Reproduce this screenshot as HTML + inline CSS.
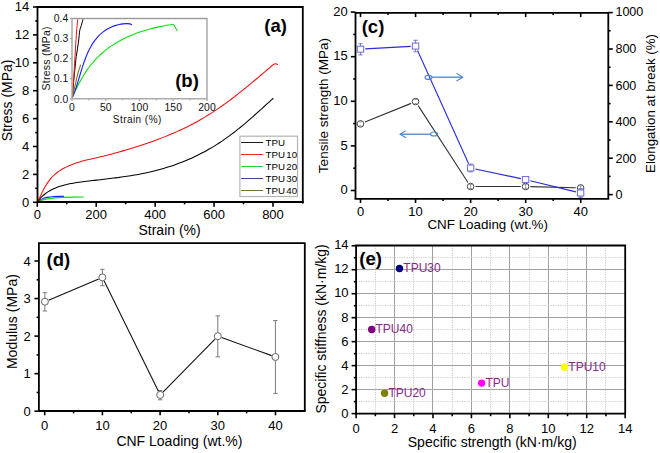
<!DOCTYPE html>
<html><head><meta charset="utf-8"><style>
html,body{margin:0;padding:0;background:#fff;}
svg{display:block;font-family:"Liberation Sans", sans-serif;}
</style></head><body>
<svg width="660" height="453" viewBox="0 0 660 453">
<rect width="660" height="453" fill="#fff"/>
<path d="M37.50,202.00 C37.82,201.80 38.77,201.20 39.40,200.80 C40.03,200.40 40.58,200.03 41.30,199.60 C42.02,199.17 42.48,198.62 43.70,198.20 C44.92,197.78 46.98,197.35 48.60,197.10 C50.22,196.85 51.78,196.81 53.40,196.70 C55.02,196.59 56.62,196.50 58.30,196.45 C59.98,196.40 62.63,196.41 63.50,196.40" stroke="#1a1aff" stroke-width="1.2" fill="none" stroke-linejoin="round" stroke-linecap="round" />
<path d="M37.50,202.00 C38.13,201.75 39.87,200.98 41.30,200.50 C42.73,200.02 44.08,199.50 46.10,199.10 C48.12,198.70 50.42,198.38 53.40,198.10 C56.38,197.82 60.23,197.57 64.00,197.40 C67.77,197.23 72.78,197.17 76.00,197.10 C79.22,197.03 82.08,197.02 83.30,197.00" stroke="#10e010" stroke-width="1.2" fill="none" stroke-linejoin="round" stroke-linecap="round" />
<path d="M37.50,202.00 C38.13,201.60 40.67,200.00 41.30,199.60" stroke="#7a7a10" stroke-width="1.2" fill="none" stroke-linejoin="round" stroke-linecap="round" />
<path d="M37.49,201.99 C37.88,201.47 39.01,199.86 39.83,198.89 C40.65,197.92 41.52,197.01 42.43,196.15 C43.34,195.29 44.29,194.49 45.27,193.74 C46.25,192.99 47.27,192.29 48.31,191.63 C49.35,190.97 50.43,190.36 51.53,189.79 C52.63,189.22 53.76,188.69 54.91,188.20 C56.06,187.71 57.23,187.26 58.41,186.84 C59.59,186.42 60.80,186.04 62.01,185.68 C63.22,185.32 64.45,185.00 65.69,184.70 C66.93,184.40 68.18,184.12 69.44,183.86 C70.70,183.60 71.96,183.37 73.24,183.15 C74.52,182.93 75.81,182.72 77.09,182.53 C78.38,182.34 79.66,182.17 80.95,182.00 C82.24,181.83 83.54,181.66 84.83,181.50 C86.12,181.34 87.41,181.19 88.70,181.04 C89.99,180.89 91.28,180.73 92.56,180.58 C93.84,180.43 95.13,180.29 96.41,180.14 C97.69,179.99 98.97,179.84 100.25,179.69 C101.53,179.54 102.81,179.40 104.09,179.25 C105.37,179.10 106.64,178.95 107.91,178.80 C109.18,178.65 110.45,178.50 111.72,178.34 C112.99,178.18 114.26,178.02 115.53,177.86 C116.80,177.70 118.06,177.54 119.32,177.37 C120.58,177.20 121.85,177.03 123.11,176.85 C124.37,176.67 125.62,176.49 126.88,176.30 C128.14,176.11 129.40,175.92 130.65,175.72 C131.91,175.52 133.16,175.31 134.41,175.10 C135.66,174.89 136.92,174.67 138.17,174.44 C139.42,174.21 140.66,173.98 141.91,173.73 C143.16,173.48 144.41,173.22 145.65,172.96 C146.90,172.70 148.14,172.43 149.38,172.15 C150.62,171.87 151.86,171.57 153.10,171.27 C154.34,170.97 155.57,170.66 156.81,170.33 C158.05,170.00 159.28,169.67 160.51,169.32 C161.74,168.97 162.97,168.62 164.20,168.25 C165.43,167.88 166.66,167.51 167.88,167.12 C169.10,166.73 170.32,166.33 171.54,165.92 C172.76,165.51 173.97,165.09 175.18,164.66 C176.39,164.23 177.60,163.79 178.80,163.34 C180.00,162.89 181.20,162.42 182.40,161.95 C183.60,161.48 184.79,161.00 185.98,160.50 C187.17,160.00 188.34,159.50 189.52,158.98 C190.70,158.46 191.87,157.94 193.04,157.40 C194.21,156.86 195.37,156.32 196.53,155.76 C197.69,155.20 198.84,154.64 199.99,154.06 C201.14,153.48 202.28,152.90 203.41,152.30 C204.54,151.70 205.67,151.09 206.79,150.47 C207.91,149.85 209.03,149.21 210.14,148.57 C211.25,147.93 212.35,147.28 213.44,146.62 C214.53,145.96 215.62,145.28 216.70,144.60 C217.78,143.92 218.85,143.23 219.92,142.53 C220.98,141.83 222.04,141.11 223.09,140.39 C224.14,139.67 225.18,138.93 226.22,138.19 C227.26,137.45 228.28,136.70 229.31,135.94 C230.34,135.18 231.36,134.42 232.37,133.65 C233.38,132.88 234.39,132.10 235.39,131.31 C236.39,130.52 237.40,129.72 238.39,128.92 C239.38,128.12 240.36,127.31 241.35,126.50 C242.34,125.69 243.32,124.87 244.30,124.05 C245.28,123.23 246.25,122.40 247.22,121.57 C248.19,120.74 249.16,119.90 250.12,119.06 C251.08,118.22 252.04,117.38 253.00,116.53 C253.96,115.68 254.92,114.83 255.88,113.98 C256.84,113.13 257.79,112.27 258.74,111.41 C259.69,110.55 260.64,109.70 261.59,108.84 C262.54,107.98 263.49,107.11 264.44,106.25 C265.39,105.39 266.34,104.53 267.29,103.67 C268.24,102.81 269.19,101.94 270.14,101.08 C271.09,100.22 272.52,98.93 273.00,98.50" stroke="#000" stroke-width="1.05" fill="none" stroke-linejoin="round" stroke-linecap="round" />
<path d="M37.50,202.00 C37.80,201.39 38.71,199.56 39.31,198.33 C39.91,197.10 40.48,195.86 41.08,194.63 C41.67,193.40 42.26,192.16 42.88,190.95 C43.50,189.73 44.12,188.52 44.78,187.34 C45.44,186.16 46.13,184.99 46.86,183.86 C47.59,182.73 48.36,181.62 49.17,180.56 C49.98,179.50 50.84,178.46 51.74,177.47 C52.65,176.48 53.60,175.53 54.60,174.62 C55.60,173.72 56.66,172.85 57.76,172.04 C58.86,171.23 60.01,170.46 61.18,169.74 C62.35,169.02 63.58,168.35 64.80,167.72 C66.02,167.09 67.26,166.50 68.50,165.95 C69.74,165.40 70.99,164.90 72.25,164.42 C73.51,163.94 74.77,163.49 76.04,163.07 C77.31,162.65 78.57,162.25 79.85,161.88 C81.13,161.50 82.41,161.16 83.70,160.82 C84.99,160.48 86.27,160.16 87.57,159.85 C88.86,159.53 90.17,159.23 91.47,158.93 C92.77,158.63 94.08,158.33 95.39,158.03 C96.70,157.73 98.01,157.42 99.32,157.11 C100.63,156.80 101.95,156.48 103.27,156.16 C104.59,155.84 105.90,155.51 107.22,155.17 C108.54,154.83 109.87,154.49 111.19,154.14 C112.51,153.79 113.83,153.45 115.15,153.09 C116.47,152.73 117.80,152.36 119.12,151.99 C120.44,151.62 121.76,151.25 123.08,150.87 C124.40,150.49 125.72,150.10 127.04,149.71 C128.36,149.32 129.67,148.92 130.98,148.52 C132.29,148.12 133.61,147.72 134.92,147.31 C136.23,146.90 137.53,146.48 138.83,146.06 C140.13,145.64 141.43,145.22 142.73,144.79 C144.03,144.36 145.32,143.92 146.61,143.48 C147.90,143.04 149.19,142.58 150.48,142.13 C151.76,141.68 153.04,141.22 154.32,140.75 C155.60,140.28 156.88,139.81 158.15,139.33 C159.42,138.85 160.69,138.37 161.95,137.88 C163.21,137.39 164.47,136.89 165.73,136.38 C166.99,135.87 168.24,135.36 169.49,134.84 C170.74,134.32 171.98,133.79 173.22,133.25 C174.46,132.71 175.70,132.17 176.93,131.62 C178.16,131.07 179.40,130.51 180.62,129.94 C181.84,129.37 183.06,128.79 184.28,128.20 C185.50,127.61 186.70,127.02 187.91,126.42 C189.12,125.82 190.32,125.21 191.52,124.59 C192.72,123.97 193.90,123.33 195.09,122.69 C196.28,122.05 197.46,121.41 198.64,120.75 C199.82,120.09 200.99,119.42 202.16,118.74 C203.33,118.06 204.48,117.37 205.64,116.67 C206.80,115.97 207.95,115.26 209.10,114.54 C210.25,113.82 211.38,113.10 212.52,112.36 C213.66,111.62 214.79,110.88 215.92,110.12 C217.05,109.36 218.16,108.59 219.28,107.82 C220.40,107.05 221.51,106.27 222.62,105.48 C223.73,104.69 224.84,103.90 225.94,103.10 C227.04,102.30 228.14,101.48 229.23,100.67 C230.32,99.86 231.41,99.04 232.49,98.21 C233.58,97.38 234.66,96.55 235.74,95.71 C236.82,94.87 237.89,94.03 238.96,93.19 C240.03,92.34 241.09,91.49 242.16,90.64 C243.22,89.79 244.29,88.93 245.35,88.07 C246.41,87.21 247.46,86.35 248.51,85.48 C249.56,84.61 250.62,83.74 251.67,82.87 C252.72,82.00 253.76,81.13 254.80,80.26 C255.84,79.39 256.89,78.52 257.93,77.64 C258.97,76.77 260.00,75.89 261.04,75.01 C262.08,74.14 263.11,73.27 264.14,72.39 C265.17,71.52 266.20,70.63 267.23,69.76 C268.26,68.89 269.29,68.02 270.31,67.15 C271.33,66.28 272.50,65.11 273.38,64.55 C274.26,63.99 274.88,63.82 275.60,63.80 C276.32,63.77 277.35,64.30 277.70,64.40" stroke="#f01010" stroke-width="1.05" fill="none" stroke-linejoin="round" stroke-linecap="round" />
<path d="M37.5,202.0 L37.5,7.0 L302.8,7.0 L302.8,203.5" stroke="#000" stroke-width="1.8" fill="none"/>
<line x1="36.60" y1="202.00" x2="303.70" y2="202.00" stroke="#000" stroke-width="1.8" />
<line x1="33.00" y1="202.30" x2="37.50" y2="202.30" stroke="#000" stroke-width="1.6" />
<text x="29.30" y="206.70" font-size="13" text-anchor="end" font-weight="normal" fill="#000" >0</text>
<line x1="35.20" y1="188.35" x2="37.50" y2="188.35" stroke="#000" stroke-width="1.6" />
<line x1="33.00" y1="174.40" x2="37.50" y2="174.40" stroke="#000" stroke-width="1.6" />
<text x="29.30" y="178.80" font-size="13" text-anchor="end" font-weight="normal" fill="#000" >2</text>
<line x1="35.20" y1="160.45" x2="37.50" y2="160.45" stroke="#000" stroke-width="1.6" />
<line x1="33.00" y1="146.50" x2="37.50" y2="146.50" stroke="#000" stroke-width="1.6" />
<text x="29.30" y="150.90" font-size="13" text-anchor="end" font-weight="normal" fill="#000" >4</text>
<line x1="35.20" y1="132.55" x2="37.50" y2="132.55" stroke="#000" stroke-width="1.6" />
<line x1="33.00" y1="118.60" x2="37.50" y2="118.60" stroke="#000" stroke-width="1.6" />
<text x="29.30" y="123.00" font-size="13" text-anchor="end" font-weight="normal" fill="#000" >6</text>
<line x1="35.20" y1="104.65" x2="37.50" y2="104.65" stroke="#000" stroke-width="1.6" />
<line x1="33.00" y1="90.70" x2="37.50" y2="90.70" stroke="#000" stroke-width="1.6" />
<text x="29.30" y="95.10" font-size="13" text-anchor="end" font-weight="normal" fill="#000" >8</text>
<line x1="35.20" y1="76.75" x2="37.50" y2="76.75" stroke="#000" stroke-width="1.6" />
<line x1="33.00" y1="62.80" x2="37.50" y2="62.80" stroke="#000" stroke-width="1.6" />
<text x="29.30" y="67.20" font-size="13" text-anchor="end" font-weight="normal" fill="#000" >10</text>
<line x1="35.20" y1="48.85" x2="37.50" y2="48.85" stroke="#000" stroke-width="1.6" />
<line x1="33.00" y1="34.90" x2="37.50" y2="34.90" stroke="#000" stroke-width="1.6" />
<text x="29.30" y="39.30" font-size="13" text-anchor="end" font-weight="normal" fill="#000" >12</text>
<line x1="35.20" y1="20.95" x2="37.50" y2="20.95" stroke="#000" stroke-width="1.6" />
<line x1="33.00" y1="7.00" x2="37.50" y2="7.00" stroke="#000" stroke-width="1.6" />
<text x="29.30" y="11.40" font-size="13" text-anchor="end" font-weight="normal" fill="#000" >14</text>
<line x1="37.30" y1="202.00" x2="37.30" y2="206.80" stroke="#000" stroke-width="1.6" />
<text x="37.30" y="219.40" font-size="13" text-anchor="middle" font-weight="normal" fill="#000" >0</text>
<line x1="66.76" y1="202.00" x2="66.76" y2="204.30" stroke="#000" stroke-width="1.6" />
<line x1="96.22" y1="202.00" x2="96.22" y2="206.80" stroke="#000" stroke-width="1.6" />
<text x="96.22" y="219.40" font-size="13" text-anchor="middle" font-weight="normal" fill="#000" >200</text>
<line x1="125.68" y1="202.00" x2="125.68" y2="204.30" stroke="#000" stroke-width="1.6" />
<line x1="155.14" y1="202.00" x2="155.14" y2="206.80" stroke="#000" stroke-width="1.6" />
<text x="155.14" y="219.40" font-size="13" text-anchor="middle" font-weight="normal" fill="#000" >400</text>
<line x1="184.60" y1="202.00" x2="184.60" y2="204.30" stroke="#000" stroke-width="1.6" />
<line x1="214.06" y1="202.00" x2="214.06" y2="206.80" stroke="#000" stroke-width="1.6" />
<text x="214.06" y="219.40" font-size="13" text-anchor="middle" font-weight="normal" fill="#000" >600</text>
<line x1="243.52" y1="202.00" x2="243.52" y2="204.30" stroke="#000" stroke-width="1.6" />
<line x1="272.98" y1="202.00" x2="272.98" y2="206.80" stroke="#000" stroke-width="1.6" />
<text x="272.98" y="219.40" font-size="13" text-anchor="middle" font-weight="normal" fill="#000" >800</text>
<text x="169.60" y="234.80" font-size="14" text-anchor="middle" font-weight="normal" fill="#000" >Strain (%)</text>
<text transform="translate(11.60,100.30) rotate(-90)" font-size="14" text-anchor="middle" font-weight="normal" fill="#000" >Stress (MPa)</text>
<text x="264.30" y="32.00" font-size="18.5" text-anchor="start" font-weight="bold" fill="#000" >(a)</text>
<rect x="239.90" y="136.20" width="57.60" height="60.30" stroke="#b4b4b4" stroke-width="1.2" fill="#fff" />
<line x1="241.10" y1="142.50" x2="263.20" y2="142.50" stroke="#1a1a1a" stroke-width="1" />
<text x="265.60" y="145.80" font-size="9.7" text-anchor="start" font-weight="normal" fill="#000" letter-spacing="0.05" >TPU</text>
<line x1="241.10" y1="154.50" x2="263.20" y2="154.50" stroke="#f52525" stroke-width="1" />
<text x="265.60" y="157.80" font-size="9.7" text-anchor="start" font-weight="normal" fill="#000" letter-spacing="0.05" >TPU<tspan dx="1.2">10</tspan></text>
<line x1="241.10" y1="166.50" x2="263.20" y2="166.50" stroke="#25d525" stroke-width="1" />
<text x="265.60" y="169.80" font-size="9.7" text-anchor="start" font-weight="normal" fill="#000" letter-spacing="0.05" >TPU<tspan dx="1.2">20</tspan></text>
<line x1="241.10" y1="178.50" x2="263.20" y2="178.50" stroke="#4040b0" stroke-width="1" />
<text x="265.60" y="181.80" font-size="9.7" text-anchor="start" font-weight="normal" fill="#000" letter-spacing="0.05" >TPU<tspan dx="1.2">30</tspan></text>
<line x1="241.10" y1="190.50" x2="263.20" y2="190.50" stroke="#737330" stroke-width="1" />
<text x="265.60" y="193.80" font-size="9.7" text-anchor="start" font-weight="normal" fill="#000" letter-spacing="0.05" >TPU<tspan dx="1.2">40</tspan></text>
<clipPath id="cb"><rect x="71.9" y="18.4" width="135" height="80.2"/></clipPath>
<g clip-path="url(#cb)">
<path d="M72.21,97.91 C72.53,97.19 73.47,95.01 74.12,93.58 C74.77,92.15 75.42,90.73 76.09,89.33 C76.76,87.93 77.44,86.55 78.13,85.18 C78.82,83.81 79.53,82.46 80.26,81.12 C80.99,79.78 81.73,78.47 82.50,77.17 C83.27,75.87 84.05,74.59 84.86,73.33 C85.67,72.07 86.50,70.83 87.36,69.61 C88.22,68.39 89.10,67.19 90.01,66.01 C90.92,64.83 91.87,63.68 92.83,62.55 C93.79,61.42 94.78,60.31 95.79,59.22 C96.81,58.13 97.85,57.07 98.92,56.03 C99.99,54.99 101.08,53.98 102.20,52.99 C103.32,52.00 104.46,51.04 105.63,50.11 C106.80,49.18 108.00,48.27 109.22,47.39 C110.44,46.51 111.70,45.66 112.97,44.84 C114.24,44.02 115.54,43.22 116.85,42.45 C118.16,41.68 119.50,40.94 120.85,40.22 C122.20,39.50 123.57,38.81 124.96,38.14 C126.35,37.47 127.75,36.84 129.17,36.22 C130.59,35.60 132.02,35.01 133.46,34.44 C134.90,33.87 136.36,33.33 137.82,32.81 C139.28,32.29 140.75,31.80 142.22,31.32 C143.69,30.84 145.19,30.39 146.67,29.96 C148.15,29.53 149.64,29.12 151.13,28.73 C152.62,28.34 154.12,27.98 155.61,27.63 C157.10,27.28 158.58,26.96 160.07,26.65 C161.56,26.34 163.04,26.05 164.52,25.78 C166.00,25.51 167.47,25.26 168.93,25.03 C170.39,24.80 172.25,24.04 173.29,24.40 C174.33,24.76 174.55,26.17 175.20,27.20 C175.85,28.23 176.87,30.03 177.20,30.60" stroke="#10e010" stroke-width="1.1" fill="none" stroke-linejoin="round" stroke-linecap="round" />
<path d="M72.20,97.90 C72.41,97.41 73.05,95.94 73.45,94.93 C73.85,93.92 74.24,92.90 74.62,91.86 C75.00,90.82 75.36,89.77 75.72,88.70 C76.08,87.64 76.44,86.56 76.79,85.47 C77.14,84.38 77.48,83.28 77.82,82.17 C78.16,81.06 78.50,79.96 78.83,78.84 C79.16,77.72 79.49,76.59 79.83,75.47 C80.17,74.34 80.51,73.22 80.85,72.09 C81.19,70.96 81.54,69.83 81.89,68.70 C82.24,67.58 82.60,66.46 82.97,65.34 C83.34,64.22 83.71,63.11 84.10,62.00 C84.49,60.89 84.89,59.79 85.30,58.70 C85.71,57.61 86.14,56.53 86.58,55.46 C87.02,54.39 87.47,53.34 87.95,52.30 C88.43,51.26 88.92,50.23 89.43,49.22 C89.95,48.21 90.48,47.22 91.04,46.25 C91.60,45.28 92.17,44.32 92.78,43.39 C93.39,42.46 94.01,41.55 94.67,40.67 C95.33,39.79 96.01,38.92 96.72,38.09 C97.43,37.26 98.17,36.45 98.93,35.67 C99.69,34.89 100.48,34.15 101.30,33.43 C102.12,32.71 102.96,32.03 103.83,31.38 C104.70,30.73 105.61,30.12 106.54,29.54 C107.47,28.96 108.44,28.41 109.43,27.91 C110.42,27.41 111.44,26.94 112.49,26.52 C113.54,26.10 114.62,25.71 115.74,25.38 C116.85,25.04 118.00,24.76 119.18,24.51 C120.36,24.27 121.57,24.06 122.81,23.91 C124.05,23.76 125.43,23.61 126.63,23.61 C127.83,23.61 129.19,23.70 130.00,23.90 C130.81,24.10 131.25,24.65 131.50,24.80" stroke="#1a1aff" stroke-width="1.1" fill="none" stroke-linejoin="round" stroke-linecap="round" />
<path d="M72.20,97.90 C72.50,96.67 73.43,92.97 74.00,90.50 C74.57,88.03 74.88,86.18 75.60,83.10 C76.32,80.02 77.47,75.02 78.30,72.00 C79.13,68.98 80.22,66.17 80.60,65.00" stroke="#7a7a10" stroke-width="1.1" fill="none" stroke-linejoin="round" stroke-linecap="round" />
<path d="M72.20,97.90 C72.33,96.25 72.70,91.32 73.00,88.00 C73.30,84.68 73.67,81.33 74.00,78.00 C74.33,74.67 74.70,71.00 75.00,68.00 C75.30,65.00 75.50,62.50 75.80,60.00 C76.10,57.50 76.38,55.80 76.80,53.00 C77.22,50.20 77.90,46.12 78.30,43.20 C78.70,40.28 78.97,37.60 79.20,35.50 C79.43,33.40 79.37,32.23 79.70,30.60 C80.03,28.97 80.63,27.65 81.20,25.70 C81.77,23.75 82.70,20.35 83.10,18.90 C83.50,17.45 83.52,17.32 83.60,17.00" stroke="#000" stroke-width="1.0" fill="none" stroke-linejoin="round" stroke-linecap="round" />
<path d="M72.20,97.90 C72.37,95.75 72.88,89.32 73.20,85.00 C73.52,80.68 73.82,76.53 74.10,72.00 C74.38,67.47 74.62,62.60 74.90,57.80 C75.18,53.00 75.48,48.07 75.80,43.20 C76.12,38.33 76.47,32.65 76.80,28.60 C77.13,24.55 77.60,20.83 77.80,18.90 C78.00,16.97 77.97,17.32 78.00,17.00" stroke="#f01010" stroke-width="1.0" fill="none" stroke-linejoin="round" stroke-linecap="round" />
</g>
<path d="M72.0,98.8 L72.0,18.5 L207.0,18.5 L207.0,98.8 Z" stroke="#ababab" stroke-width="1.5" fill="none"/>
<line x1="72.00" y1="18.50" x2="207.00" y2="18.50" stroke="#999" stroke-width="1.1" />
<line x1="69.80" y1="98.80" x2="72.00" y2="98.80" stroke="#a8a8a8" stroke-width="1.2" />
<text x="68.20" y="102.50" font-size="10.4" text-anchor="end" font-weight="normal" fill="#111" >0.0</text>
<line x1="69.80" y1="78.73" x2="72.00" y2="78.73" stroke="#a8a8a8" stroke-width="1.2" />
<text x="68.20" y="82.43" font-size="10.4" text-anchor="end" font-weight="normal" fill="#111" >0.1</text>
<line x1="69.80" y1="58.66" x2="72.00" y2="58.66" stroke="#a8a8a8" stroke-width="1.2" />
<text x="68.20" y="62.36" font-size="10.4" text-anchor="end" font-weight="normal" fill="#111" >0.2</text>
<line x1="69.80" y1="38.59" x2="72.00" y2="38.59" stroke="#a8a8a8" stroke-width="1.2" />
<text x="68.20" y="42.29" font-size="10.4" text-anchor="end" font-weight="normal" fill="#111" >0.3</text>
<line x1="69.80" y1="18.52" x2="72.00" y2="18.52" stroke="#a8a8a8" stroke-width="1.2" />
<text x="68.20" y="22.22" font-size="10.4" text-anchor="end" font-weight="normal" fill="#111" >0.4</text>
<line x1="72.00" y1="98.80" x2="72.00" y2="101.00" stroke="#a8a8a8" stroke-width="1.2" />
<text x="72.00" y="110.60" font-size="10.4" text-anchor="middle" font-weight="normal" fill="#111" >0</text>
<line x1="88.88" y1="98.80" x2="88.88" y2="100.30" stroke="#a8a8a8" stroke-width="1.2" />
<line x1="105.75" y1="98.80" x2="105.75" y2="101.00" stroke="#a8a8a8" stroke-width="1.2" />
<text x="105.75" y="110.60" font-size="10.4" text-anchor="middle" font-weight="normal" fill="#111" >50</text>
<line x1="122.62" y1="98.80" x2="122.62" y2="100.30" stroke="#a8a8a8" stroke-width="1.2" />
<line x1="139.50" y1="98.80" x2="139.50" y2="101.00" stroke="#a8a8a8" stroke-width="1.2" />
<text x="139.50" y="110.60" font-size="10.4" text-anchor="middle" font-weight="normal" fill="#111" >100</text>
<line x1="156.38" y1="98.80" x2="156.38" y2="100.30" stroke="#a8a8a8" stroke-width="1.2" />
<line x1="173.25" y1="98.80" x2="173.25" y2="101.00" stroke="#a8a8a8" stroke-width="1.2" />
<text x="173.25" y="110.60" font-size="10.4" text-anchor="middle" font-weight="normal" fill="#111" >150</text>
<line x1="190.12" y1="98.80" x2="190.12" y2="100.30" stroke="#a8a8a8" stroke-width="1.2" />
<line x1="207.00" y1="98.80" x2="207.00" y2="101.00" stroke="#a8a8a8" stroke-width="1.2" />
<text x="207.00" y="110.60" font-size="10.4" text-anchor="middle" font-weight="normal" fill="#111" >200</text>
<text x="137.30" y="123.40" font-size="10" text-anchor="middle" font-weight="normal" fill="#111" letter-spacing="0.45" >Strain (%)</text>
<text transform="translate(50.10,58.30) rotate(-90)" font-size="10.5" text-anchor="middle" font-weight="normal" fill="#111" letter-spacing="0.25" >Stress (MPa)</text>
<text x="175.20" y="87.20" font-size="18.5" text-anchor="start" font-weight="bold" fill="#000" >(b)</text>
<path d="M355.5,198.8 L355.5,12.8 L608.3,12.8 L608.3,198.8" stroke="#000" stroke-width="1.8" fill="none"/>
<line x1="354.60" y1="198.80" x2="609.20" y2="198.80" stroke="#000" stroke-width="1.8" />
<line x1="350.80" y1="190.50" x2="355.50" y2="190.50" stroke="#000" stroke-width="1.6" />
<text x="347.80" y="194.20" font-size="13" text-anchor="end" font-weight="normal" fill="#000" >0</text>
<line x1="353.20" y1="168.20" x2="355.50" y2="168.20" stroke="#000" stroke-width="1.6" />
<line x1="350.80" y1="145.90" x2="355.50" y2="145.90" stroke="#000" stroke-width="1.6" />
<text x="347.80" y="149.60" font-size="13" text-anchor="end" font-weight="normal" fill="#000" >5</text>
<line x1="353.20" y1="123.60" x2="355.50" y2="123.60" stroke="#000" stroke-width="1.6" />
<line x1="350.80" y1="101.30" x2="355.50" y2="101.30" stroke="#000" stroke-width="1.6" />
<text x="347.80" y="105.00" font-size="13" text-anchor="end" font-weight="normal" fill="#000" >10</text>
<line x1="353.20" y1="79.00" x2="355.50" y2="79.00" stroke="#000" stroke-width="1.6" />
<line x1="350.80" y1="56.70" x2="355.50" y2="56.70" stroke="#000" stroke-width="1.6" />
<text x="347.80" y="60.40" font-size="13" text-anchor="end" font-weight="normal" fill="#000" >15</text>
<line x1="353.20" y1="34.40" x2="355.50" y2="34.40" stroke="#000" stroke-width="1.6" />
<line x1="350.80" y1="12.10" x2="355.50" y2="12.10" stroke="#000" stroke-width="1.6" />
<text x="347.80" y="15.80" font-size="13" text-anchor="end" font-weight="normal" fill="#000" >20</text>
<line x1="608.30" y1="194.60" x2="612.80" y2="194.60" stroke="#000" stroke-width="1.6" />
<text x="615.60" y="198.90" font-size="12.6" text-anchor="start" font-weight="normal" fill="#000" letter-spacing="-0.15" >0</text>
<line x1="608.30" y1="176.40" x2="610.60" y2="176.40" stroke="#000" stroke-width="1.6" />
<line x1="608.30" y1="158.20" x2="612.80" y2="158.20" stroke="#000" stroke-width="1.6" />
<text x="615.60" y="162.50" font-size="12.6" text-anchor="start" font-weight="normal" fill="#000" letter-spacing="-0.15" >200</text>
<line x1="608.30" y1="140.00" x2="610.60" y2="140.00" stroke="#000" stroke-width="1.6" />
<line x1="608.30" y1="121.80" x2="612.80" y2="121.80" stroke="#000" stroke-width="1.6" />
<text x="615.60" y="126.10" font-size="12.6" text-anchor="start" font-weight="normal" fill="#000" letter-spacing="-0.15" >400</text>
<line x1="608.30" y1="103.60" x2="610.60" y2="103.60" stroke="#000" stroke-width="1.6" />
<line x1="608.30" y1="85.40" x2="612.80" y2="85.40" stroke="#000" stroke-width="1.6" />
<text x="615.60" y="89.70" font-size="12.6" text-anchor="start" font-weight="normal" fill="#000" letter-spacing="-0.15" >600</text>
<line x1="608.30" y1="67.20" x2="610.60" y2="67.20" stroke="#000" stroke-width="1.6" />
<line x1="608.30" y1="49.00" x2="612.80" y2="49.00" stroke="#000" stroke-width="1.6" />
<text x="615.60" y="53.30" font-size="12.6" text-anchor="start" font-weight="normal" fill="#000" letter-spacing="-0.15" >800</text>
<line x1="608.30" y1="30.80" x2="610.60" y2="30.80" stroke="#000" stroke-width="1.6" />
<line x1="608.30" y1="12.60" x2="612.80" y2="12.60" stroke="#000" stroke-width="1.6" />
<text x="615.60" y="16.10" font-size="12.6" text-anchor="start" font-weight="normal" fill="#000" letter-spacing="-0.15" >1000</text>
<line x1="360.50" y1="198.80" x2="360.50" y2="203.00" stroke="#000" stroke-width="1.6" />
<line x1="360.50" y1="12.80" x2="360.50" y2="17.10" stroke="#000" stroke-width="1.6" />
<text x="360.50" y="216.00" font-size="13" text-anchor="middle" font-weight="normal" fill="#000" >0</text>
<line x1="388.03" y1="198.80" x2="388.03" y2="201.00" stroke="#000" stroke-width="1.6" />
<line x1="388.03" y1="12.80" x2="388.03" y2="15.10" stroke="#000" stroke-width="1.6" />
<line x1="415.56" y1="198.80" x2="415.56" y2="203.00" stroke="#000" stroke-width="1.6" />
<line x1="415.56" y1="12.80" x2="415.56" y2="17.10" stroke="#000" stroke-width="1.6" />
<text x="415.56" y="216.00" font-size="13" text-anchor="middle" font-weight="normal" fill="#000" >10</text>
<line x1="443.09" y1="198.80" x2="443.09" y2="201.00" stroke="#000" stroke-width="1.6" />
<line x1="443.09" y1="12.80" x2="443.09" y2="15.10" stroke="#000" stroke-width="1.6" />
<line x1="470.62" y1="198.80" x2="470.62" y2="203.00" stroke="#000" stroke-width="1.6" />
<line x1="470.62" y1="12.80" x2="470.62" y2="17.10" stroke="#000" stroke-width="1.6" />
<text x="470.62" y="216.00" font-size="13" text-anchor="middle" font-weight="normal" fill="#000" >20</text>
<line x1="498.15" y1="198.80" x2="498.15" y2="201.00" stroke="#000" stroke-width="1.6" />
<line x1="498.15" y1="12.80" x2="498.15" y2="15.10" stroke="#000" stroke-width="1.6" />
<line x1="525.68" y1="198.80" x2="525.68" y2="203.00" stroke="#000" stroke-width="1.6" />
<line x1="525.68" y1="12.80" x2="525.68" y2="17.10" stroke="#000" stroke-width="1.6" />
<text x="525.68" y="216.00" font-size="13" text-anchor="middle" font-weight="normal" fill="#000" >30</text>
<line x1="553.21" y1="198.80" x2="553.21" y2="201.00" stroke="#000" stroke-width="1.6" />
<line x1="553.21" y1="12.80" x2="553.21" y2="15.10" stroke="#000" stroke-width="1.6" />
<line x1="580.74" y1="198.80" x2="580.74" y2="203.00" stroke="#000" stroke-width="1.6" />
<line x1="580.74" y1="12.80" x2="580.74" y2="17.10" stroke="#000" stroke-width="1.6" />
<text x="580.74" y="216.00" font-size="13" text-anchor="middle" font-weight="normal" fill="#000" >40</text>
<text x="487.70" y="228.90" font-size="13.4" text-anchor="middle" font-weight="normal" fill="#000" >CNF Loading (wt.%)</text>
<text transform="translate(327.50,105.60) rotate(-90)" font-size="13.5" text-anchor="middle" font-weight="normal" fill="#000" >Tensile strength (MPa)</text>
<text transform="translate(655.20,103.50) rotate(-90)" font-size="13.3" text-anchor="middle" font-weight="normal" fill="#000" >Elongation at break (%)</text>
<text x="361.70" y="33.40" font-size="18.5" text-anchor="start" font-weight="bold" fill="#000" >(c)</text>
<line x1="364.95" y1="122.07" x2="411.11" y2="103.37" stroke="#333" stroke-width="1.1" />
<line x1="418.17" y1="105.60" x2="467.99" y2="182.47" stroke="#333" stroke-width="1.1" />
<line x1="475.40" y1="186.50" x2="520.80" y2="186.50" stroke="#333" stroke-width="1.1" />
<line x1="530.40" y1="186.62" x2="575.80" y2="187.78" stroke="#333" stroke-width="1.1" />
<line x1="365.29" y1="48.91" x2="410.77" y2="46.36" stroke="#2a2ae0" stroke-width="1.1" />
<line x1="417.54" y1="50.46" x2="468.64" y2="163.65" stroke="#2a2ae0" stroke-width="1.1" />
<line x1="475.32" y1="169.02" x2="520.90" y2="178.61" stroke="#2a2ae0" stroke-width="1.1" />
<line x1="530.26" y1="180.74" x2="575.94" y2="191.86" stroke="#2a2ae0" stroke-width="1.1" />
<circle cx="360.50" cy="123.87" r="3.3" stroke="#444" stroke-width="1" fill="#fff"/>
<line x1="359.30" y1="121.87" x2="361.70" y2="121.87" stroke="#777" stroke-width="0.8" />
<line x1="359.30" y1="125.87" x2="361.70" y2="125.87" stroke="#777" stroke-width="0.8" />
<circle cx="415.56" cy="101.57" r="3.3" stroke="#444" stroke-width="1" fill="#fff"/>
<line x1="414.36" y1="99.57" x2="416.76" y2="99.57" stroke="#777" stroke-width="0.8" />
<line x1="414.36" y1="103.57" x2="416.76" y2="103.57" stroke="#777" stroke-width="0.8" />
<circle cx="470.60" cy="186.50" r="3.3" stroke="#444" stroke-width="1" fill="#fff"/>
<line x1="469.40" y1="184.50" x2="471.80" y2="184.50" stroke="#777" stroke-width="0.8" />
<line x1="469.40" y1="188.50" x2="471.80" y2="188.50" stroke="#777" stroke-width="0.8" />
<line x1="470.60" y1="184.50" x2="470.60" y2="188.50" stroke="#888" stroke-width="0.8" />
<circle cx="525.60" cy="186.50" r="3.3" stroke="#444" stroke-width="1" fill="#fff"/>
<line x1="524.40" y1="184.50" x2="526.80" y2="184.50" stroke="#777" stroke-width="0.8" />
<line x1="524.40" y1="188.50" x2="526.80" y2="188.50" stroke="#777" stroke-width="0.8" />
<line x1="525.60" y1="184.50" x2="525.60" y2="188.50" stroke="#888" stroke-width="0.8" />
<circle cx="580.60" cy="187.90" r="3.3" stroke="#444" stroke-width="1" fill="#fff"/>
<line x1="579.40" y1="185.90" x2="581.80" y2="185.90" stroke="#777" stroke-width="0.8" />
<line x1="579.40" y1="189.90" x2="581.80" y2="189.90" stroke="#777" stroke-width="0.8" />
<line x1="580.60" y1="185.90" x2="580.60" y2="189.90" stroke="#888" stroke-width="0.8" />
<line x1="360.50" y1="43.68" x2="360.50" y2="54.88" stroke="#6a6ad0" stroke-width="0.9" />
<line x1="358.30" y1="43.68" x2="362.70" y2="43.68" stroke="#6a6ad0" stroke-width="0.9" />
<line x1="358.30" y1="54.88" x2="362.70" y2="54.88" stroke="#6a6ad0" stroke-width="0.9" />
<rect x="357.30" y="46.18" width="6.40" height="6.00" stroke="#6a6ad0" stroke-width="1" fill="#fff" />
<line x1="415.56" y1="40.29" x2="415.56" y2="51.79" stroke="#6a6ad0" stroke-width="0.9" />
<line x1="413.36" y1="40.29" x2="417.76" y2="40.29" stroke="#6a6ad0" stroke-width="0.9" />
<line x1="413.36" y1="51.79" x2="417.76" y2="51.79" stroke="#6a6ad0" stroke-width="0.9" />
<rect x="412.36" y="43.09" width="6.40" height="6.00" stroke="#6a6ad0" stroke-width="1" fill="#fff" />
<line x1="470.62" y1="164.03" x2="470.62" y2="171.83" stroke="#6a6ad0" stroke-width="0.9" />
<line x1="468.42" y1="164.03" x2="472.82" y2="164.03" stroke="#6a6ad0" stroke-width="0.9" />
<line x1="468.42" y1="171.83" x2="472.82" y2="171.83" stroke="#6a6ad0" stroke-width="0.9" />
<rect x="467.42" y="165.03" width="6.40" height="6.00" stroke="#6a6ad0" stroke-width="1" fill="#fff" />
<rect x="522.40" y="176.60" width="6.40" height="6.00" stroke="#6a6ad0" stroke-width="1" fill="#fff" />
<line x1="580.60" y1="188.60" x2="580.60" y2="197.40" stroke="#6a6ad0" stroke-width="0.9" />
<line x1="578.40" y1="188.60" x2="582.80" y2="188.60" stroke="#6a6ad0" stroke-width="0.9" />
<line x1="578.40" y1="197.40" x2="582.80" y2="197.40" stroke="#6a6ad0" stroke-width="0.9" />
<rect x="577.40" y="190.00" width="6.40" height="6.00" stroke="#6a6ad0" stroke-width="1" fill="#fff" />
<ellipse cx="428.5" cy="77.4" rx="3.5" ry="2" stroke="#4a86c8" stroke-width="1.1" fill="none"/>
<line x1="432.00" y1="77.20" x2="462.50" y2="77.20" stroke="#4a86c8" stroke-width="1.3" />
<path d="M456.5,73.4 L462.7,77.2 L456.5,81" stroke="#4a86c8" stroke-width="1.1" fill="none"/>
<ellipse cx="434" cy="134" rx="3.5" ry="2" stroke="#4a86c8" stroke-width="1.1" fill="none"/>
<line x1="430.50" y1="134.20" x2="400.30" y2="134.20" stroke="#4a86c8" stroke-width="1.3" />
<path d="M405.9,130.6 L400.1,134.2 L405.9,137.8" stroke="#4a86c8" stroke-width="1.1" fill="none"/>
<path d="M38.9,411.0 L38.9,243.2 L304.8,243.2 L304.8,411.0" stroke="#000" stroke-width="1.8" fill="none"/>
<line x1="38.00" y1="411.00" x2="305.70" y2="411.00" stroke="#000" stroke-width="1.8" />
<line x1="34.40" y1="411.20" x2="38.90" y2="411.20" stroke="#000" stroke-width="1.6" />
<text x="30.70" y="415.70" font-size="13" text-anchor="end" font-weight="normal" fill="#000" >0</text>
<line x1="36.60" y1="392.43" x2="38.90" y2="392.43" stroke="#000" stroke-width="1.6" />
<line x1="34.40" y1="373.65" x2="38.90" y2="373.65" stroke="#000" stroke-width="1.6" />
<text x="30.70" y="378.15" font-size="13" text-anchor="end" font-weight="normal" fill="#000" >1</text>
<line x1="36.60" y1="354.88" x2="38.90" y2="354.88" stroke="#000" stroke-width="1.6" />
<line x1="34.40" y1="336.10" x2="38.90" y2="336.10" stroke="#000" stroke-width="1.6" />
<text x="30.70" y="340.60" font-size="13" text-anchor="end" font-weight="normal" fill="#000" >2</text>
<line x1="36.60" y1="317.32" x2="38.90" y2="317.32" stroke="#000" stroke-width="1.6" />
<line x1="34.40" y1="298.55" x2="38.90" y2="298.55" stroke="#000" stroke-width="1.6" />
<text x="30.70" y="303.05" font-size="13" text-anchor="end" font-weight="normal" fill="#000" >3</text>
<line x1="36.60" y1="279.77" x2="38.90" y2="279.77" stroke="#000" stroke-width="1.6" />
<line x1="34.40" y1="261.00" x2="38.90" y2="261.00" stroke="#000" stroke-width="1.6" />
<text x="30.70" y="265.50" font-size="13" text-anchor="end" font-weight="normal" fill="#000" >4</text>
<line x1="44.70" y1="411.00" x2="44.70" y2="415.30" stroke="#000" stroke-width="1.6" />
<text x="44.70" y="429.60" font-size="13" text-anchor="middle" font-weight="normal" fill="#000" >0</text>
<line x1="73.55" y1="411.00" x2="73.55" y2="413.30" stroke="#000" stroke-width="1.6" />
<line x1="102.40" y1="411.00" x2="102.40" y2="415.30" stroke="#000" stroke-width="1.6" />
<text x="102.40" y="429.60" font-size="13" text-anchor="middle" font-weight="normal" fill="#000" >10</text>
<line x1="131.25" y1="411.00" x2="131.25" y2="413.30" stroke="#000" stroke-width="1.6" />
<line x1="160.10" y1="411.00" x2="160.10" y2="415.30" stroke="#000" stroke-width="1.6" />
<text x="160.10" y="429.60" font-size="13" text-anchor="middle" font-weight="normal" fill="#000" >20</text>
<line x1="188.95" y1="411.00" x2="188.95" y2="413.30" stroke="#000" stroke-width="1.6" />
<line x1="217.80" y1="411.00" x2="217.80" y2="415.30" stroke="#000" stroke-width="1.6" />
<text x="217.80" y="429.60" font-size="13" text-anchor="middle" font-weight="normal" fill="#000" >30</text>
<line x1="246.65" y1="411.00" x2="246.65" y2="413.30" stroke="#000" stroke-width="1.6" />
<line x1="275.50" y1="411.00" x2="275.50" y2="415.30" stroke="#000" stroke-width="1.6" />
<text x="275.50" y="429.60" font-size="13" text-anchor="middle" font-weight="normal" fill="#000" >40</text>
<text x="179.40" y="446.10" font-size="14" text-anchor="middle" font-weight="normal" fill="#000" >CNF Loading (wt.%)</text>
<text transform="translate(17.20,321.60) rotate(-90)" font-size="14" text-anchor="middle" font-weight="normal" fill="#000" >Modulus (MPa)</text>
<text x="46.50" y="265.60" font-size="18.5" text-anchor="start" font-weight="bold" fill="#000" >(d)</text>
<line x1="44.90" y1="292.70" x2="44.90" y2="311.00" stroke="#7a7a7a" stroke-width="1" />
<line x1="42.70" y1="292.70" x2="47.10" y2="292.70" stroke="#7a7a7a" stroke-width="1" />
<line x1="42.70" y1="311.00" x2="47.10" y2="311.00" stroke="#7a7a7a" stroke-width="1" />
<line x1="102.40" y1="269.30" x2="102.40" y2="285.70" stroke="#7a7a7a" stroke-width="1" />
<line x1="100.20" y1="269.30" x2="104.60" y2="269.30" stroke="#7a7a7a" stroke-width="1" />
<line x1="100.20" y1="285.70" x2="104.60" y2="285.70" stroke="#7a7a7a" stroke-width="1" />
<line x1="160.20" y1="390.50" x2="160.20" y2="399.80" stroke="#7a7a7a" stroke-width="1" />
<line x1="158.00" y1="390.50" x2="162.40" y2="390.50" stroke="#7a7a7a" stroke-width="1" />
<line x1="158.00" y1="399.80" x2="162.40" y2="399.80" stroke="#7a7a7a" stroke-width="1" />
<line x1="217.80" y1="315.90" x2="217.80" y2="356.80" stroke="#7a7a7a" stroke-width="1" />
<line x1="215.60" y1="315.90" x2="220.00" y2="315.90" stroke="#7a7a7a" stroke-width="1" />
<line x1="215.60" y1="356.80" x2="220.00" y2="356.80" stroke="#7a7a7a" stroke-width="1" />
<line x1="275.40" y1="320.60" x2="275.40" y2="393.40" stroke="#7a7a7a" stroke-width="1" />
<line x1="273.20" y1="320.60" x2="277.60" y2="320.60" stroke="#7a7a7a" stroke-width="1" />
<line x1="273.20" y1="393.40" x2="277.60" y2="393.40" stroke="#7a7a7a" stroke-width="1" />
<line x1="48.58" y1="300.14" x2="98.72" y2="278.96" stroke="#111" stroke-width="1.1" />
<line x1="104.17" y1="280.99" x2="158.43" y2="391.31" stroke="#111" stroke-width="1.1" />
<line x1="163.00" y1="392.04" x2="215.00" y2="339.06" stroke="#111" stroke-width="1.1" />
<line x1="221.56" y1="337.56" x2="271.64" y2="355.64" stroke="#111" stroke-width="1.1" />
<circle cx="44.90" cy="301.70" r="3.5" stroke="#666" stroke-width="1" fill="#fff"/>
<circle cx="102.40" cy="277.40" r="3.5" stroke="#666" stroke-width="1" fill="#fff"/>
<circle cx="160.20" cy="394.90" r="3.5" stroke="#666" stroke-width="1" fill="#fff"/>
<circle cx="217.80" cy="336.20" r="3.5" stroke="#666" stroke-width="1" fill="#fff"/>
<circle cx="275.40" cy="357.00" r="3.5" stroke="#666" stroke-width="1" fill="#fff"/>
<line x1="375.50" y1="245.50" x2="375.50" y2="413.60" stroke="#cbcbcb" stroke-width="1" stroke-dasharray="1.2,1.2"/>
<line x1="394.50" y1="245.50" x2="394.50" y2="413.60" stroke="#a0a0a0" stroke-width="1" />
<line x1="413.50" y1="245.50" x2="413.50" y2="413.60" stroke="#cbcbcb" stroke-width="1" stroke-dasharray="1.2,1.2"/>
<line x1="432.50" y1="245.50" x2="432.50" y2="413.60" stroke="#a0a0a0" stroke-width="1" />
<line x1="452.50" y1="245.50" x2="452.50" y2="413.60" stroke="#cbcbcb" stroke-width="1" stroke-dasharray="1.2,1.2"/>
<line x1="471.50" y1="245.50" x2="471.50" y2="413.60" stroke="#a0a0a0" stroke-width="1" />
<line x1="490.50" y1="245.50" x2="490.50" y2="413.60" stroke="#cbcbcb" stroke-width="1" stroke-dasharray="1.2,1.2"/>
<line x1="509.50" y1="245.50" x2="509.50" y2="413.60" stroke="#a0a0a0" stroke-width="1" />
<line x1="529.50" y1="245.50" x2="529.50" y2="413.60" stroke="#cbcbcb" stroke-width="1" stroke-dasharray="1.2,1.2"/>
<line x1="548.50" y1="245.50" x2="548.50" y2="413.60" stroke="#a0a0a0" stroke-width="1" />
<line x1="567.50" y1="245.50" x2="567.50" y2="413.60" stroke="#cbcbcb" stroke-width="1" stroke-dasharray="1.2,1.2"/>
<line x1="586.50" y1="245.50" x2="586.50" y2="413.60" stroke="#a0a0a0" stroke-width="1" />
<line x1="605.50" y1="245.50" x2="605.50" y2="413.60" stroke="#cbcbcb" stroke-width="1" stroke-dasharray="1.2,1.2"/>
<line x1="356.10" y1="401.50" x2="625.20" y2="401.50" stroke="#cbcbcb" stroke-width="1" stroke-dasharray="1.2,1.2"/>
<line x1="356.10" y1="389.50" x2="625.20" y2="389.50" stroke="#a0a0a0" stroke-width="1" />
<line x1="356.10" y1="377.50" x2="625.20" y2="377.50" stroke="#cbcbcb" stroke-width="1" stroke-dasharray="1.2,1.2"/>
<line x1="356.10" y1="365.50" x2="625.20" y2="365.50" stroke="#a0a0a0" stroke-width="1" />
<line x1="356.10" y1="353.50" x2="625.20" y2="353.50" stroke="#cbcbcb" stroke-width="1" stroke-dasharray="1.2,1.2"/>
<line x1="356.10" y1="341.50" x2="625.20" y2="341.50" stroke="#a0a0a0" stroke-width="1" />
<line x1="356.10" y1="329.50" x2="625.20" y2="329.50" stroke="#cbcbcb" stroke-width="1" stroke-dasharray="1.2,1.2"/>
<line x1="356.10" y1="317.50" x2="625.20" y2="317.50" stroke="#a0a0a0" stroke-width="1" />
<line x1="356.10" y1="305.50" x2="625.20" y2="305.50" stroke="#cbcbcb" stroke-width="1" stroke-dasharray="1.2,1.2"/>
<line x1="356.10" y1="293.50" x2="625.20" y2="293.50" stroke="#a0a0a0" stroke-width="1" />
<line x1="356.10" y1="281.50" x2="625.20" y2="281.50" stroke="#cbcbcb" stroke-width="1" stroke-dasharray="1.2,1.2"/>
<line x1="356.10" y1="269.50" x2="625.20" y2="269.50" stroke="#a0a0a0" stroke-width="1" />
<line x1="356.10" y1="257.50" x2="625.20" y2="257.50" stroke="#cbcbcb" stroke-width="1" stroke-dasharray="1.2,1.2"/>
<path d="M356.1,413.6 L356.1,245.5 L625.2,245.5 L625.2,413.6" stroke="#000" stroke-width="1.8" fill="none"/>
<line x1="355.20" y1="413.60" x2="626.10" y2="413.60" stroke="#000" stroke-width="1.8" />
<line x1="351.60" y1="413.60" x2="356.10" y2="413.60" stroke="#000" stroke-width="1.6" />
<text x="348.60" y="418.10" font-size="13" text-anchor="end" font-weight="normal" fill="#000" >0</text>
<line x1="353.80" y1="401.61" x2="356.10" y2="401.61" stroke="#000" stroke-width="1.6" />
<line x1="351.60" y1="389.62" x2="356.10" y2="389.62" stroke="#000" stroke-width="1.6" />
<text x="348.60" y="393.96" font-size="13" text-anchor="end" font-weight="normal" fill="#000" >2</text>
<line x1="353.80" y1="377.63" x2="356.10" y2="377.63" stroke="#000" stroke-width="1.6" />
<line x1="351.60" y1="365.64" x2="356.10" y2="365.64" stroke="#000" stroke-width="1.6" />
<text x="348.60" y="369.83" font-size="13" text-anchor="end" font-weight="normal" fill="#000" >4</text>
<line x1="353.80" y1="353.65" x2="356.10" y2="353.65" stroke="#000" stroke-width="1.6" />
<line x1="351.60" y1="341.66" x2="356.10" y2="341.66" stroke="#000" stroke-width="1.6" />
<text x="348.60" y="345.69" font-size="13" text-anchor="end" font-weight="normal" fill="#000" >6</text>
<line x1="353.80" y1="329.67" x2="356.10" y2="329.67" stroke="#000" stroke-width="1.6" />
<line x1="351.60" y1="317.68" x2="356.10" y2="317.68" stroke="#000" stroke-width="1.6" />
<text x="348.60" y="321.55" font-size="13" text-anchor="end" font-weight="normal" fill="#000" >8</text>
<line x1="353.80" y1="305.69" x2="356.10" y2="305.69" stroke="#000" stroke-width="1.6" />
<line x1="351.60" y1="293.70" x2="356.10" y2="293.70" stroke="#000" stroke-width="1.6" />
<text x="348.60" y="297.41" font-size="13" text-anchor="end" font-weight="normal" fill="#000" >10</text>
<line x1="353.80" y1="281.71" x2="356.10" y2="281.71" stroke="#000" stroke-width="1.6" />
<line x1="351.60" y1="269.72" x2="356.10" y2="269.72" stroke="#000" stroke-width="1.6" />
<text x="348.60" y="273.28" font-size="13" text-anchor="end" font-weight="normal" fill="#000" >12</text>
<line x1="353.80" y1="257.73" x2="356.10" y2="257.73" stroke="#000" stroke-width="1.6" />
<line x1="351.60" y1="245.74" x2="356.10" y2="245.74" stroke="#000" stroke-width="1.6" />
<text x="348.60" y="249.14" font-size="13" text-anchor="end" font-weight="normal" fill="#000" >14</text>
<line x1="356.10" y1="413.60" x2="356.10" y2="418.20" stroke="#000" stroke-width="1.6" />
<text x="356.10" y="432.60" font-size="13" text-anchor="middle" font-weight="normal" fill="#000" >0</text>
<line x1="375.32" y1="413.60" x2="375.32" y2="416.20" stroke="#000" stroke-width="1.6" />
<line x1="394.54" y1="413.60" x2="394.54" y2="418.20" stroke="#000" stroke-width="1.6" />
<text x="394.54" y="432.60" font-size="13" text-anchor="middle" font-weight="normal" fill="#000" >2</text>
<line x1="413.76" y1="413.60" x2="413.76" y2="416.20" stroke="#000" stroke-width="1.6" />
<line x1="432.98" y1="413.60" x2="432.98" y2="418.20" stroke="#000" stroke-width="1.6" />
<text x="432.98" y="432.60" font-size="13" text-anchor="middle" font-weight="normal" fill="#000" >4</text>
<line x1="452.20" y1="413.60" x2="452.20" y2="416.20" stroke="#000" stroke-width="1.6" />
<line x1="471.42" y1="413.60" x2="471.42" y2="418.20" stroke="#000" stroke-width="1.6" />
<text x="471.42" y="432.60" font-size="13" text-anchor="middle" font-weight="normal" fill="#000" >6</text>
<line x1="490.64" y1="413.60" x2="490.64" y2="416.20" stroke="#000" stroke-width="1.6" />
<line x1="509.86" y1="413.60" x2="509.86" y2="418.20" stroke="#000" stroke-width="1.6" />
<text x="509.86" y="432.60" font-size="13" text-anchor="middle" font-weight="normal" fill="#000" >8</text>
<line x1="529.08" y1="413.60" x2="529.08" y2="416.20" stroke="#000" stroke-width="1.6" />
<line x1="548.30" y1="413.60" x2="548.30" y2="418.20" stroke="#000" stroke-width="1.6" />
<text x="548.30" y="432.60" font-size="13" text-anchor="middle" font-weight="normal" fill="#000" >10</text>
<line x1="567.52" y1="413.60" x2="567.52" y2="416.20" stroke="#000" stroke-width="1.6" />
<line x1="586.74" y1="413.60" x2="586.74" y2="418.20" stroke="#000" stroke-width="1.6" />
<text x="586.74" y="432.60" font-size="13" text-anchor="middle" font-weight="normal" fill="#000" >12</text>
<line x1="605.96" y1="413.60" x2="605.96" y2="416.20" stroke="#000" stroke-width="1.6" />
<line x1="625.18" y1="413.60" x2="625.18" y2="418.20" stroke="#000" stroke-width="1.6" />
<text x="625.18" y="432.60" font-size="13" text-anchor="middle" font-weight="normal" fill="#000" >14</text>
<text x="492.20" y="447.30" font-size="14" text-anchor="middle" font-weight="normal" fill="#000" >Specific strength (kN·m/kg)</text>
<text transform="translate(326.40,328.90) rotate(-90)" font-size="14" text-anchor="middle" font-weight="normal" fill="#000" >Specific stiffness (kN·m/kg)</text>
<text x="359.30" y="264.80" font-size="18.5" text-anchor="start" font-weight="bold" fill="#000" >(e)</text>
<circle cx="399.50" cy="268.50" r="3.7" fill="#000080"/>
<text x="403.30" y="272.10" font-size="12" text-anchor="start" font-weight="normal" fill="#862a8a" >TPU30</text>
<circle cx="371.70" cy="329.50" r="3.7" fill="#800080"/>
<text x="375.50" y="333.10" font-size="12" text-anchor="start" font-weight="normal" fill="#862a8a" >TPU40</text>
<circle cx="481.60" cy="383.10" r="3.7" fill="#ff00ff"/>
<text x="485.40" y="386.70" font-size="12" text-anchor="start" font-weight="normal" fill="#862a8a" >TPU</text>
<circle cx="564.50" cy="367.30" r="3.7" fill="#ffff00"/>
<text x="568.30" y="370.90" font-size="12" text-anchor="start" font-weight="normal" fill="#862a8a" >TPU10</text>
<circle cx="384.60" cy="393.20" r="3.7" fill="#808000"/>
<text x="388.40" y="396.80" font-size="12" text-anchor="start" font-weight="normal" fill="#862a8a" >TPU20</text>
</svg>
</body></html>
